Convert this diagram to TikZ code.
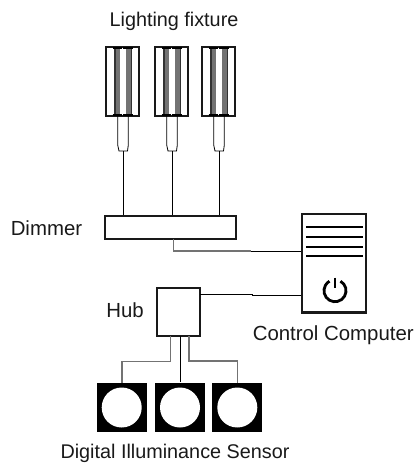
\documentclass[tikz,border=0pt]{standalone}
\usepackage{fontspec}
\setmainfont{Liberation Sans}
\tikzset{
  x=0.75pt,y=-0.75pt,
  lbl/.style={inner sep=0pt,font=\fontsize{14.85}{17}\selectfont,text=black!90},
  lblb/.style={inner sep=0pt,font=\fontsize{15.3}{17}\selectfont,text=black!90},
  wire/.style={draw=black,line width=0.75pt},
  gwire/.style={draw=black!55,line width=0.9pt},
  box/.style={draw=black!90,line width=1.25pt,fill=white,inner sep=0pt},
}
\newcommand{\fixture}[2]{%
  \begin{scope}[shift={(#1,0)}]
  \node[box,minimum width=24.75pt,minimum height=51.75pt] (#2) at (0,81.5) {};
  \fill[black!55] (-8.2,48) rectangle (-2.5,115);
  \fill[black!55] (3.5,48) rectangle (9.8,115);
  \fill[black!80] (-8.2,48) rectangle (-6.5,115);
  \fill[black!80] (8,48) rectangle (9.8,115);
  \draw[line width=1.8pt,black] (-9.8,48) -- (-0.8,48) (0.8,48) -- (10.8,48) (-9.8,115) -- (-0.8,115) (0.8,115) -- (10.8,115);
  \draw[wire,line width=0.6pt] (-4.8,116) -- (-4.8,145) -- (-3.5,151) -- (5,151) -- (5.8,145) -- (5.8,116);
  \coordinate (#2c) at (0.5,151);
  \end{scope}}
\begin{document}
\begin{tikzpicture}
\useasboundingbox (0,0) rectangle (415,463);
\node[lbl] (t1) at (174,21) {Lighting fixture};
\fixture{122.5}{fa}
\fixture{171.5}{fb}
\fixture{218.5}{fc}
\node[lblb,anchor=west] (t2) at (10.5,228.5) {Dimmer};
\node[box,minimum width=98.25pt,minimum height=17.25pt] (dim) at (170.5,227.5) {};
\node[lblb] (t3) at (125,310) {Hub};
\node[box,minimum width=32.25pt,minimum height=36pt] (hub) at (178.7,312) {};
\node[box,line width=1.8pt,minimum width=48pt,minimum height=74pt] (pc) at (334,263.3) {};
\draw[line width=1.6pt,black] (306,227.3) -- (363,227.3) (306,236.7) -- (363,236.7) (306,246.7) -- (363,246.7) (306,256.3) -- (363,256.3);
\draw[line width=2.1pt,black] (335,277.5) -- (335,288);
\draw[line width=2.1pt,black] (340.5,281.2) arc[start angle=60,end angle=-240,radius=8.25pt];
\node[lblb,anchor=west] (t4) at (252.5,335) {Control Computer};
\foreach \n/\x in {sa/121.7,sb/180,sc/237.3}{
  \node[fill=black,draw=none,minimum width=37.3pt,minimum height=37.3pt,inner sep=0pt] (\n) at (\x,407.5) {};
  \fill[white] (\n.center) circle[radius=15pt];
}
\node[lbl] (t5) at (175,453) {Digital Illuminance Sensor};
\draw[wire] (fac) -- (fac |- dim.north);
\draw[wire] (fbc) -- (fbc |- dim.north);
\draw[wire] (fcc) -- (fcc |- dim.north);
\coordinate (d0) at (173.3,239);
\coordinate (d1) at (173.3,251);
\coordinate (d2) at (251,251);
\coordinate (p1) at (pc.west |- d2);
\draw[gwire] (d0) -- (d1) -- (d2);
\draw[wire] (d2) -- (p1);
\coordinate (h1) at (200,294.3);
\coordinate (h2) at (252,294.3);
\coordinate (h3) at (252,295);
\coordinate (p2) at (pc.west |- h3);
\draw[wire] (h1) -- (h2) -- (h3) -- (p2);
\coordinate (a0) at (170.7,336);
\coordinate (a1) at (170.7,361.7);
\coordinate (a2) at (122,361.7);
\coordinate (a3) at (122,383);
\draw[gwire] (a0) -- (a1) -- (a2) -- (a3);
\coordinate (b0) at (180,336);
\draw[wire] (b0) -- (b0 |- sb.north);
\coordinate (c0) at (189,336);
\coordinate (c1) at (189,361);
\coordinate (c2) at (237.3,361);
\coordinate (c3) at (237.3,383);
\draw[gwire] (c0) -- (c1) -- (c2) -- (c3);
\end{tikzpicture}
\end{document}
